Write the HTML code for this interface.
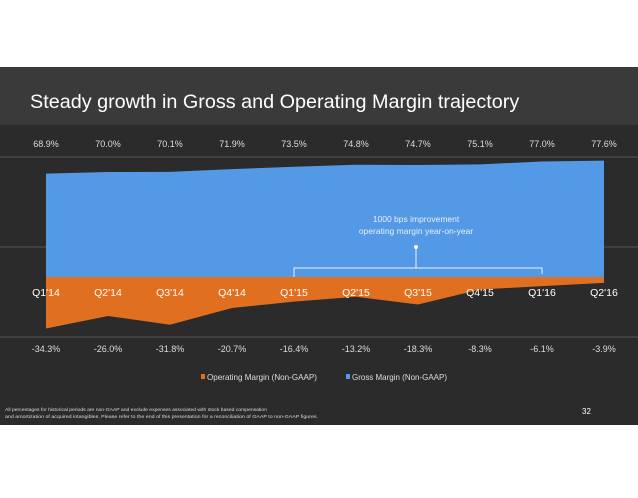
<!DOCTYPE html>
<html><head><meta charset="utf-8"><style>
body{margin:0;width:638px;height:493px;background:#fff;overflow:hidden;font-family:"Liberation Sans",sans-serif}
</style></head><body>
<svg width="638" height="493">
<rect x="0" y="67" width="638" height="358" fill="#2b2b2b"/>
<rect x="0" y="67" width="638" height="58" fill="#3a3a3a"/>
<text x="30" y="108" font-size="19.8" fill="#fff">Steady growth in Gross and Operating Margin trajectory</text>
<g id="chart"></g>
<text x="582" y="414" font-size="8" fill="#fff">32</text>
<text x="5" y="411" font-size="4.6" fill="#ddd" textLength="262" lengthAdjust="spacingAndGlyphs">All percentages for historical periods are non-GAAP and exclude expenses associated with stock based compensation</text>
<text x="5" y="418" font-size="4.6" fill="#ddd" textLength="313" lengthAdjust="spacingAndGlyphs">and amortization of acquired intangibles.  Please refer to the end of this presentation for a reconciliation of GAAP to non-GAAP figures.</text>
</svg>
<script>
const categories=["Q1'14","Q2'14","Q3'14","Q4'14","Q1'15","Q2'15","Q3'15","Q4'15","Q1'16","Q2'16"];
const grossMargin=[68.9,70.0,70.1,71.9,73.5,74.8,74.7,75.1,77.0,77.6];
const operatingMargin=[-34.3,-26.0,-31.8,-20.7,-16.4,-13.2,-18.3,-8.3,-6.1,-3.9];
const gridValues=[80,20,-40];
const NS="http://www.w3.org/2000/svg";
const g=document.getElementById('chart');
const x=i=>46+i*62;
const y=v=>277-v*1.5;
function mk(t,a,p){const e=document.createElementNS(NS,t);for(const k in a)e.setAttribute(k,a[k]);(p||g).appendChild(e);return e;}
gridValues.forEach(v=>{
const l=mk('line',{x1:0,x2:638,y1:y(v),y2:y(v),stroke:'#555','stroke-width':1});


});
let pts=categories.map((c,i)=>x(i)+','+y(grossMargin[i])).join(' ');
const ga=mk('polygon',{points:pts+' '+x(9)+','+y(0)+' '+x(0)+','+y(0),fill:'#5499e6'});


pts=categories.map((c,i)=>x(i)+','+y(operatingMargin[i])).join(' ');
const oa=mk('polygon',{points:x(0)+','+y(0)+' '+x(9)+','+y(0)+' '+pts.split(' ').reverse().join(' '),fill:'#e07020'});


categories.forEach((c,i)=>{
let t=mk('text',{x:x(i),y:147,'font-size':9,fill:'#ddd','text-anchor':'middle'});t.textContent=grossMargin[i].toFixed(1)+'%';


t=mk('text',{x:x(i),y:296,'font-size':10.5,fill:'#fff','text-anchor':'middle'});t.textContent=c;


t=mk('text',{x:x(i),y:352,'font-size':9,fill:'#ddd','text-anchor':'middle'});t.textContent=operatingMargin[i].toFixed(1)+'%';


});
const br=mk('path',{d:'M'+x(4)+' 277V268H'+x(8)+'V274M416 268V247',stroke:'#eef',fill:'none','stroke-width':1});


const dot=mk('circle',{cx:416,cy:247,r:2,fill:'#fff'});


[['1000 bps improvement',222],['operating margin year-on-year',234]].forEach(a=>{
const t=mk('text',{x:416,y:a[1],'font-size':8.5,fill:'#e8eef8','text-anchor':'middle'});t.textContent=a[0];


});
[['#e07020',201,'Operating Margin (Non-GAAP)',110],['#5499e6',346,'Gross Margin (Non-GAAP)',95]].forEach(a=>{
const r=mk('rect',{x:a[1],y:374,width:4,height:5,fill:a[0]});


const t=mk('text',{x:a[1]+6,y:380,'font-size':8.2,fill:'#ddd',textLength:a[3],lengthAdjust:'spacingAndGlyphs'});t.textContent=a[2];


});
</script>
</body></html>
